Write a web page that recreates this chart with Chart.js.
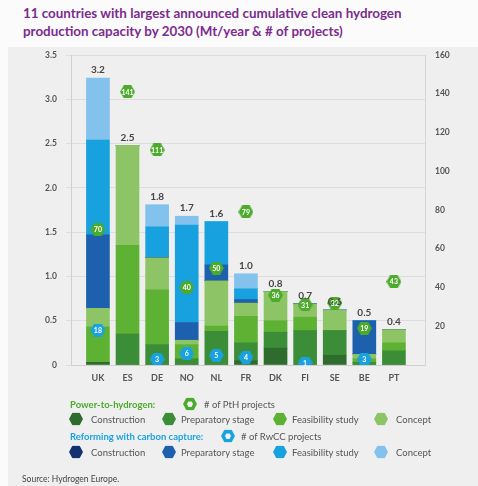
<!DOCTYPE html>
<html>
<head>
<meta charset="utf-8">
<script src="https://cdn.jsdelivr.net/npm/chart.js@4.4.1/dist/chart.umd.min.js"></script>
<style>
  html, body { margin: 0; padding: 0; }
  body { width: 478px; height: 486px; position: relative; overflow: hidden; background: #fbfbfb; font-family: Lato, "Open Sans", sans-serif; }
  #panel { position: absolute; left: 8px; top: 47px; right: 0; bottom: 0; background: #efefef; }
  #title { position: absolute; left: 23px; top: 4px; font-weight: 700; font-size: 13.4px; line-height: 18px; color: #7b2c8f; white-space: nowrap; }
  #c { position: absolute; left: 0; top: 0; }
  .lg { position: absolute; font-size: 9.5px; color: #555; white-space: nowrap; transform: translateY(-50%); }
  .lg.head { font-weight: 700; }
  .hx { position: absolute; width: 14px; height: 13px; transform: translate(-50%, -50%);
        clip-path: polygon(25% 0, 75% 0, 100% 50%, 75% 100%, 25% 100%, 0 50%); }
  .hx .in { position: absolute; left: 4px; top: 3.5px; width: 6px; height: 6px; background: #efefef;
        clip-path: polygon(25% 0, 75% 0, 100% 50%, 75% 100%, 25% 100%, 0 50%); }
  #src { position: absolute; left: 22px; top: 474px; font-size: 8.5px; color: #444; }
</style>
</head>
<body>
<div id="panel"></div>
<div id="title">11 countries with largest announced cumulative clean hydrogen<br>production capacity by 2030 (Mt/year &amp; # of projects)</div>
<canvas id="c" width="478" height="486"></canvas>
<div id="legend"></div>
<div id="src">Source: Hydrogen Europe.</div>

<script>
// Countries on the x axis
const countries = ['UK', 'ES', 'DE', 'NO', 'NL', 'FR', 'DK', 'FI', 'SE', 'BE', 'PT'];

// Power-to-hydrogen capacity by project stage (Mt/year)
const pthConstruction = [0.03, 0, 0, 0, 0, 0.05, 0.19, 0, 0.11, 0, 0];
const pthPreparatory  = [0, 0.35, 0.23, 0.07, 0.38, 0.20, 0.18, 0.39, 0.28, 0.03, 0.16];
const pthFeasibility  = [0.40, 1.00, 0.62, 0.16, 0.06, 0.30, 0.13, 0.15, 0, 0.04, 0.09];
const pthConcept      = [0.21, 1.13, 0.36, 0.05, 0.51, 0.15, 0.33, 0.15, 0.23, 0.05, 0.15];

// Reforming with carbon capture capacity by project stage (Mt/year)
const rwccConstruction = [0, 0, 0, 0, 0, 0, 0, 0, 0, 0, 0];
const rwccPreparatory  = [0.83, 0, 0, 0.20, 0.18, 0.04, 0, 0, 0, 0.38, 0];
const rwccFeasibility  = [1.07, 0, 0.35, 1.10, 0.49, 0.12, 0, 0, 0, 0, 0];
const rwccConcept      = [0.70, 0, 0.25, 0.10, 0, 0.17, 0, 0, 0, 0, 0];

// Number of projects (right axis)
const pthProjects  = [70, 141, 111, 40, 50, 79, 36, 31, 32, 19, 43];
const rwccProjects = [18, null, 3, 6, 5, 4, null, 1, null, 3, null];

// Axis ranges
const capacityMax = 3.5, capacityStep = 0.5;
const projectsMax = 160, projectsStep = 20;

const stageNames = ['Construction', 'Preparatory stage', 'Feasibility study', 'Concept'];
const pthColors  = ['#2e6c2d', '#3b8d37', '#5db234', '#8dc566'];
const rwccColors = ['#14316f', '#1d60ae', '#17a1df', '#82c2ec'];
const pthBadge = '#4caa2c', rwccBadge = '#18a3e0';

const pthSeries  = [pthConstruction, pthPreparatory, pthFeasibility, pthConcept];
const rwccSeries = [rwccConstruction, rwccPreparatory, rwccFeasibility, rwccConcept];

const totals = countries.map((_, i) =>
  [...pthSeries, ...rwccSeries].reduce((s, arr) => s + arr[i], 0));

const toXY = arr => arr.map((v, i) => ({ x: i, y: v }));

function hexPath(g, x, y, w, h) {
  g.beginPath();
  g.moveTo(x + w * 0.25, y); g.lineTo(x + w * 0.75, y); g.lineTo(x + w, y + h / 2);
  g.lineTo(x + w * 0.75, y + h); g.lineTo(x + w * 0.25, y + h); g.lineTo(x, y + h / 2);
  g.closePath();
}
function hexCanvas(color) {
  const c = document.createElement('canvas');
  c.width = 15; c.height = 13;
  const g = c.getContext('2d');
  hexPath(g, 0, 0, 15, 13);
  g.fillStyle = color; g.fill();
  return c;
}

const barSets = [];
pthSeries.forEach((arr, k) => barSets.push({
  type: 'bar', label: 'PtH ' + stageNames[k], data: toXY(arr),
  backgroundColor: pthColors[k], yAxisID: 'y', order: 1, barThickness: 23
}));
rwccSeries.forEach((arr, k) => barSets.push({
  type: 'bar', label: 'RwCC ' + stageNames[k], data: toXY(arr),
  backgroundColor: rwccColors[k], yAxisID: 'y', order: 1, barThickness: 23
}));

const badgeSets = [
  { type: 'line', label: '# of PtH projects', showLine: false, yAxisID: 'y2', order: 0,
    data: toXY(pthProjects).filter(p => p.y !== null), pointStyle: hexCanvas(pthBadge), badge: true },
  { type: 'line', label: '# of RwCC projects', showLine: false, yAxisID: 'y2', order: 0,
    data: toXY(rwccProjects).filter(p => p.y !== null), pointStyle: hexCanvas(rwccBadge), badge: true }
];

// Totals above the bars and counts inside the hexagon badges
const textPlugin = {
  id: 'barTexts',
  afterDatasetsDraw(chart) {
    const { ctx, scales: { x, y } } = chart;
    ctx.save();
    ctx.textAlign = 'center';
    ctx.textBaseline = 'bottom';
    ctx.font = '700 10px Lato';
    ctx.fillStyle = '#454545';
    totals.forEach((t, i) => ctx.fillText(t.toFixed(1), x.getPixelForValue(i), y.getPixelForValue(t) - 3));
    ctx.textBaseline = 'middle';
    ctx.font = '700 7px Lato';
    ctx.fillStyle = '#ffffff';
    chart.data.datasets.forEach((ds, di) => {
      if (!ds.badge) return;
      chart.getDatasetMeta(di).data.forEach((pt, k) => ctx.fillText(String(ds.data[k].y), pt.x, pt.y + 0.5));
    });
    ctx.restore();
  }
};

const tickFont = { family: 'Lato', size: 8.5, weight: '700' };

new Chart(document.getElementById('c'), {
  data: { datasets: [...barSets, ...badgeSets] },
  options: {
    responsive: false,
    animation: false,
    layout: { padding: { top: 55, bottom: 101, left: 0, right: 0 } },
    plugins: { legend: { display: false }, tooltip: { enabled: false } },
    elements: { point: { radius: 7 } },
    scales: {
      x: {
        type: 'linear', min: -0.91, max: 11.05, stacked: true, offset: false,
        afterFit: s => { s.height = 20; },
        grid: { display: true, color: 'rgba(0,0,0,0)', drawTicks: false },
        border: { color: '#cfcfcf' },
        ticks: { stepSize: 1, includeBounds: false, autoSkip: false, maxRotation: 0, padding: 8,
                 color: '#555', font: { family: 'Lato', size: 9, weight: '700' },
                 callback: v => countries[v] ?? '' }
      },
      y: {
        position: 'left', stacked: true, min: 0, max: capacityMax,
        afterFit: s => { s.width = 71; },
        grid: { color: '#dddddd', tickLength: 5 },
        border: { color: '#cfcfcf' },
        ticks: { stepSize: capacityStep, padding: 9, color: '#555', font: tickFont,
                 callback: v => v === 0 ? '0' : v.toFixed(1) }
      },
      y2: {
        position: 'right', min: 0, max: projectsMax,
        afterFit: s => { s.width = 53; },
        grid: { display: true, drawOnChartArea: false, drawTicks: false },
        border: { color: '#d5d5d5' },
        ticks: { stepSize: projectsStep, padding: 10, color: '#555', font: tickFont,
                 callback: v => v === 0 ? '' : String(v) }
      }
    }
  },
  plugins: [textPlugin]
});

// Legend
const legend = document.getElementById('legend');
function addText(txt, left, cy, cls, color) {
  const d = document.createElement('div');
  d.className = 'lg' + (cls ? ' ' + cls : '');
  d.textContent = txt;
  d.style.left = left + 'px'; d.style.top = cy + 'px';
  if (color) d.style.color = color;
  legend.appendChild(d);
}
function addHex(cx, cy, color, ring) {
  const d = document.createElement('div');
  d.className = 'hx';
  d.style.left = cx + 'px'; d.style.top = cy + 'px'; d.style.background = color;
  if (ring) { const i = document.createElement('div'); i.className = 'in'; d.appendChild(i); }
  legend.appendChild(d);
}
const markerX = [76, 169, 280, 381];
const labelX = [91, 181, 292, 396];
addText('Power-to-hydrogen:', 70, 404, 'head', pthBadge);
addHex(190, 404, pthBadge, true);
addText('# of PtH projects', 204, 404);
stageNames.forEach((n, k) => { addHex(markerX[k], 419, pthColors[k]); addText(n, labelX[k], 419); });
addText('Reforming with carbon capture:', 70, 436, 'head', rwccBadge);
addHex(228, 436, rwccBadge, true);
addText('# of RwCC projects', 241, 436);
stageNames.forEach((n, k) => { addHex(markerX[k], 452, rwccColors[k]); addText(n, labelX[k], 452); });
</script>
</body>
</html>
